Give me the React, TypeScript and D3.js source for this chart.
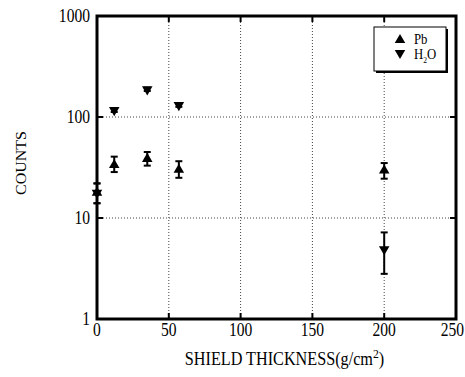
import React, { useEffect, useRef } from "react";
import * as d3 from "d3";

const thickness = [0, 12, 35, 57, 200];
const pbCounts = [17.8, 33.5, 38.5, 30, 29.5];
const pbLow = [14, 28.5, 33, 25, 24.5];
const pbHigh = [22, 40.5, 45, 36.5, 35];
const h2oCounts = [17.8, 117, 188, 131, 4.9];
const h2oLow = [14, 112, 181, 126, 2.8];
const h2oHigh = [22, 122, 195, 136, 7.2];
const xTicks = [0, 50, 100, 150, 200, 250];
const yTicks = [1, 10, 100, 1000];

const W = 465;
const H = 377;
const FONT = "'Liberation Serif', serif";

export default function App() {
  const svgRef = useRef<SVGSVGElement>(null);

  useEffect(() => {
    if (!svgRef.current) return;
    const svg = d3.select(svgRef.current);
    svg.selectAll("*").remove();

    const margin = { top: 16, right: 9, bottom: 58, left: 97 };
    const x = d3.scaleLinear().domain([0, 250]).range([margin.left, W - margin.right]);
    const y = d3.scaleLog().domain([1, 1000]).range([H - margin.bottom, margin.top]);
    const [x0, x1] = x.range();
    const [y0, y1] = y.range();

    // grid
    const grid = svg.append("g").attr("stroke", "#444").attr("stroke-width", 1).attr("stroke-dasharray", "1,2");
    xTicks.slice(1, -1).forEach(t => {
      grid.append("line").attr("x1", x(t)).attr("x2", x(t)).attr("y1", y1).attr("y2", y0);
    });
    yTicks.slice(1, -1).forEach(t => {
      grid.append("line").attr("x1", x0).attr("x2", x1).attr("y1", y(t)).attr("y2", y(t));
    });

    // inward ticks
    const ticks = svg.append("g").attr("stroke", "#000").attr("stroke-width", 2);
    xTicks.slice(1, -1).forEach(t => {
      ticks.append("line").attr("x1", x(t)).attr("x2", x(t)).attr("y1", y0).attr("y2", y0 - 6);
      ticks.append("line").attr("x1", x(t)).attr("x2", x(t)).attr("y1", y1).attr("y2", y1 + 6);
    });
    yTicks.slice(1, -1).forEach(t => {
      ticks.append("line").attr("x1", x0).attr("x2", x0 + 6).attr("y1", y(t)).attr("y2", y(t));
      ticks.append("line").attr("x1", x1).attr("x2", x1 - 6).attr("y1", y(t)).attr("y2", y(t));
    });

    // frame
    svg.append("rect")
      .attr("x", x0).attr("y", y1)
      .attr("width", x1 - x0).attr("height", y0 - y1)
      .attr("fill", "none").attr("stroke", "#000").attr("stroke-width", 3);

    // tick labels (tall, narrow glyphs like the original); last one kept inside the page
    svg.append("g").selectAll("text").data(xTicks).join("text")
      .attr("transform", (d, i) => i === xTicks.length - 1
        ? `translate(${W - 1},${y0 + 17}) scale(0.82,1)`
        : `translate(${x(d)},${y0 + 17}) scale(0.82,1)`)
      .attr("text-anchor", (d, i) => i === xTicks.length - 1 ? "end" : "middle")
      .attr("font-family", FONT).attr("font-size", 19)
      .text(d => d);
    svg.append("g").selectAll("text").data(yTicks).join("text")
      .attr("transform", d => `translate(${x0 - 7},${y(d) + 6}) scale(0.82,1)`)
      .attr("text-anchor", "end")
      .attr("font-family", FONT).attr("font-size", 19)
      .text(d => d);

    // axis titles
    const xt = svg.append("text")
      .attr("transform", `translate(${(x0 + x1) / 2 + 8},365) scale(0.9,1)`)
      .attr("text-anchor", "middle")
      .attr("font-family", FONT).attr("font-size", 18);
    xt.append("tspan").text("SHIELD THICKNESS(g/cm");
    xt.append("tspan").attr("dy", -7).attr("font-size", 13).text("2");
    xt.append("tspan").attr("dy", 7).text(")");

    svg.append("text")
      .attr("transform", `translate(26,163) rotate(-90) scale(1,0.85)`)
      .attr("text-anchor", "middle")
      .attr("font-family", FONT).attr("font-size", 16)
      .text("COUNTS");

    const up = d3.symbol().type(d3.symbolTriangle).size(48)();
    const drawSeries = (vals: number[], lo: number[], hi: number[], down: boolean) => {
      const g = svg.append("g");
      thickness.forEach((t, i) => {
        const cx = x(t);
        g.append("line").attr("x1", cx).attr("x2", cx).attr("y1", y(lo[i])).attr("y2", y(hi[i]))
          .attr("stroke", "#000").attr("stroke-width", 2);
        [lo[i], hi[i]].forEach(v => {
          g.append("line").attr("x1", cx - 3.5).attr("x2", cx + 3.5).attr("y1", y(v)).attr("y2", y(v))
            .attr("stroke", "#000").attr("stroke-width", 2);
        });
        g.append("path").attr("d", up)
          .attr("transform", `translate(${cx},${y(vals[i])})${down ? " rotate(180)" : ""}`)
          .attr("fill", "#000");
      });
    };
    drawSeries(pbCounts, pbLow, pbHigh, false);
    drawSeries(h2oCounts, h2oLow, h2oHigh, true);

    // legend
    const lg = svg.append("g");
    lg.append("rect").attr("x", 376).attr("y", 29).attr("width", 72).attr("height", 44).attr("fill", "#000");
    lg.append("rect").attr("x", 374).attr("y", 27).attr("width", 72).attr("height", 44)
      .attr("fill", "#fff").attr("stroke", "#000").attr("stroke-width", 1);
    lg.append("path").attr("d", up).attr("transform", "translate(400,40)").attr("fill", "#000");
    lg.append("path").attr("d", up).attr("transform", "translate(400,53) rotate(180)").attr("fill", "#000");
    lg.append("text").attr("transform", "translate(414,44) scale(0.85,1)")
      .attr("font-family", FONT).attr("font-size", 15).text("Pb");
    const ht = lg.append("text").attr("transform", "translate(414,59) scale(0.85,1)")
      .attr("font-family", FONT).attr("font-size", 15);
    ht.append("tspan").text("H");
    ht.append("tspan").attr("dy", 4).attr("font-size", 9).text("2");
    ht.append("tspan").attr("dy", -4).text("O");
  }, []);

  return (
    <svg
      ref={svgRef}
      width={W}
      height={H}
      style={{ position: "absolute", left: 0, top: 0, background: "#fff" }}
    />
  );
}
